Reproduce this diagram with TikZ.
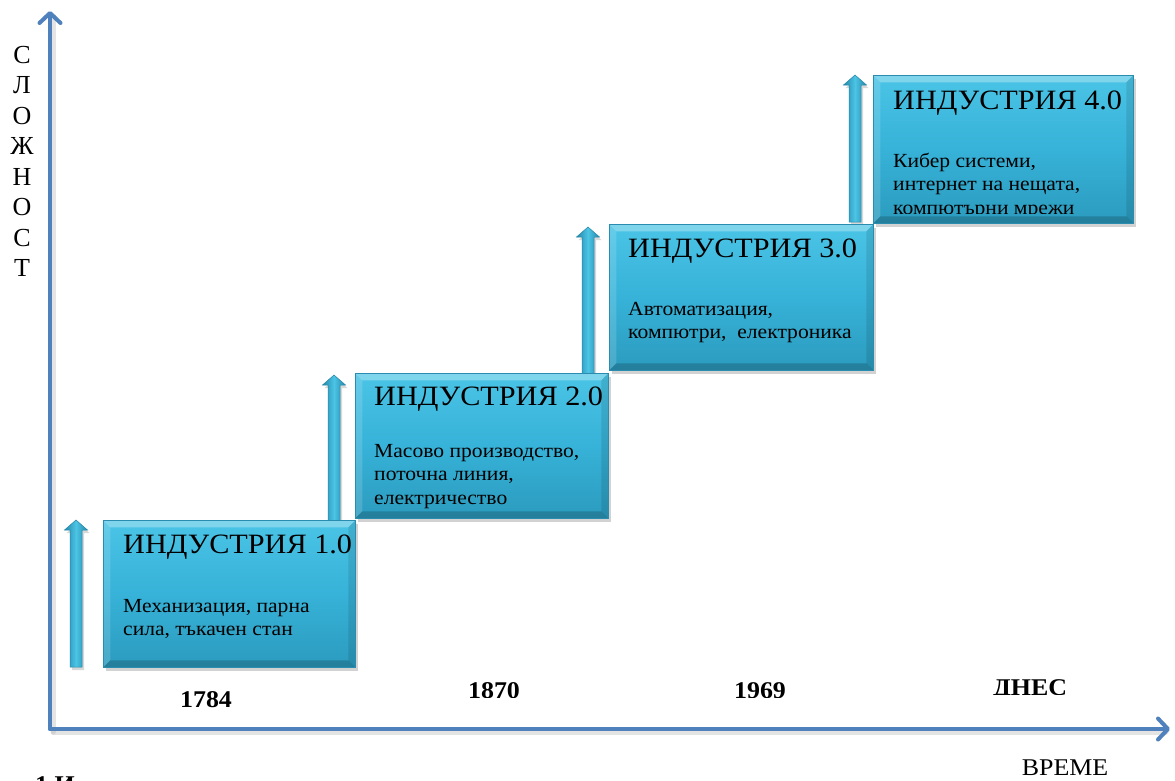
\documentclass[tikz,border=0pt]{standalone}
\usepackage{fontspec}
\setmainfont[FakeStretch=1.08]{Liberation Serif}
\newfontfamily\plainfont{Liberation Serif}
\usetikzlibrary{arrows.meta,shadows}
\definecolor{axisblue}{HTML}{4F81BD}
\definecolor{boxtop}{HTML}{4AC4E6}
\definecolor{boxmid}{HTML}{37B2D8}
\definecolor{boxbot}{HTML}{2B9BBE}
\definecolor{boxedge}{HTML}{2A8DAF}
\definecolor{arrdark}{HTML}{2587A8}
\definecolor{arrlight}{HTML}{4CC4E5}
\begin{document}
\begin{tikzpicture}[x=1pt,y=-1pt,
  axisline/.style={draw=axisblue,line width=4pt,line cap=round,line join=round,
    -{Straight Barb[length=10pt,width=21pt,line width=4pt,line cap=round,line join=round]}},
  axisshadow/.style={draw=black!35,opacity=0.3,line width=5pt,line cap=round},
  stagebox/.style={rectangle,inner sep=0pt,anchor=north west,
    top color=boxtop,bottom color=boxbot,middle color=boxmid,
    draw=boxedge,line width=0.6pt,
    drop shadow={shadow xshift=3pt,shadow yshift=-4pt,opacity=0.35},
    path picture={
      \fill[white,opacity=0.30] (path picture bounding box.north west) -- (path picture bounding box.north east)
        -- ([xshift=-7pt,yshift=-7pt]path picture bounding box.north east) -- ([xshift=7pt,yshift=-7pt]path picture bounding box.north west) -- cycle;
      \fill[white,opacity=0.15] (path picture bounding box.north west) -- (path picture bounding box.south west)
        -- ([xshift=7pt,yshift=7pt]path picture bounding box.south west) -- ([xshift=7pt,yshift=-7pt]path picture bounding box.north west) -- cycle;
      \fill[black,opacity=0.18] (path picture bounding box.south west) -- (path picture bounding box.south east)
        -- ([xshift=-7pt,yshift=7pt]path picture bounding box.south east) -- ([xshift=7pt,yshift=7pt]path picture bounding box.south west) -- cycle;
      \fill[black,opacity=0.10] (path picture bounding box.north east) -- (path picture bounding box.south east)
        -- ([xshift=-7pt,yshift=7pt]path picture bounding box.south east) -- ([xshift=-7pt,yshift=-7pt]path picture bounding box.north east) -- cycle;
    }},
  titletext/.style={anchor=base west,inner sep=0pt,font=\fontsize{28}{32}\selectfont},
  bodytext/.style={anchor=base west,inner sep=0pt,font=\fontsize{20}{23.5}\selectfont},
  yeartext/.style={anchor=base,inner sep=0pt,font=\fontsize{24}{28}\selectfont\bfseries},
  arrowbody/.style={left color=arrdark,right color=arrdark,middle color=arrlight,
    draw=arrdark,line width=0.5pt,
    drop shadow={shadow xshift=2pt,shadow yshift=-3pt,opacity=0.3}}
]
\clip (0,0) rectangle (1175,780);
\fill[white] (0,0) rectangle (1175,780);

% axes
\coordinate (O) at (50,729);
\coordinate (ytip) at (50,11);
\coordinate (xtip) at (1170,729);
\coordinate (Os) at (53,732);
\coordinate (ytips) at (53,16);
\coordinate (xtips) at (1166,732);
\draw[axisshadow] (Os) -- (ytips);
\draw[axisshadow] (Os) -- (xtips);
\draw[axisline] (O) -- (ytip);
\draw[axisline] (O) -- (xtip);

% vertical label
\foreach \c [count=\i] in {С,Л,О,Ж,Н,О,С,Т}
  \node[anchor=base,inner sep=0pt,font=\plainfont\fontsize{26}{30}\selectfont] (v\i) at ({22},{63+30.5*(\i-1)}) {\c};

% small up arrows
\newcommand\stagearrow[3]{%
  \path[arrowbody] ({#1-6},#3) -- ({#1-6},{#2+10}) -- ({#1-11.5},{#2+10}) -- (#1,#2)
    -- ({#1+11.5},{#2+10}) -- ({#1+6},{#2+10}) -- ({#1+6},#3) -- cycle;}
\stagearrow{76}{520}{667}
\stagearrow{334}{375}{521}
\stagearrow{588}{227}{374}
\stagearrow{855}{75}{222}

% boxes
\node[stagebox,minimum width=252pt,minimum height=147pt] (b1) at (103,520) {};
\node[stagebox,minimum width=253pt,minimum height=145pt] (b2) at (355,373) {};
\node[stagebox,minimum width=264pt,minimum height=146pt] (b3) at (609,224) {};
\node[stagebox,minimum width=260pt,minimum height=148pt] (b4) at (873,75) {};

% box texts
\node[titletext] (t1) at (123,553) {ИНДУСТРИЯ 1.0};
\node[bodytext] (d1a) at (123,612) {Механизация, парна};
\node[bodytext] (d1b) at (123,635) {сила, тъкачен стан};
\node[titletext] (t2) at (374,405) {ИНДУСТРИЯ 2.0};
\node[bodytext] (d2a) at (374,457) {Масово производство,};
\node[bodytext] (d2b) at (374,480.5) {поточна линия,};
\node[bodytext] (d2c) at (374,504) {електричество};
\node[titletext] (t3) at (628,257) {ИНДУСТРИЯ 3.0};
\node[bodytext] (d3a) at (628,315) {Автоматизация,};
\node[bodytext] (d3b) at (628,338) {компютри,\ \ електроника};
\node[titletext] (t4) at (893,109) {ИНДУСТРИЯ 4.0};
\node[bodytext] (d4a) at (893,167) {Кибер системи,};
\node[bodytext] (d4b) at (893,190) {интернет на нещата,};
\begin{scope}
  \clip (880,195) rectangle (1130,213);
  \node[bodytext] (d4c) at (893,214) {компютърни мрежи};
\end{scope}

% year labels
\fill[white] (158,673) rectangle (290,722);
\node[yeartext] (y1) at (206,707) {1784};
\begin{scope}
  \clip (400,640) rectangle (1120,697);
  \node[yeartext] (y2) at (494,698.5) {1870};
  \node[yeartext] (y3) at (760,698.5) {1969};
\end{scope}
\begin{scope}
  \clip (960,640) rectangle (1120,694);
  \node[yeartext] (y4) at (1030,695.5) {ДНЕС};
\end{scope}

\node[anchor=base,inner sep=0pt,font=\fontsize{24}{28}\selectfont] (xl) at (1065,775) {ВРЕМЕ};
\node[anchor=base west,inner sep=0pt,font=\fontsize{24}{28}\selectfont\bfseries] (cap) at (35,792) {1 И};
\end{tikzpicture}
\end{document}
